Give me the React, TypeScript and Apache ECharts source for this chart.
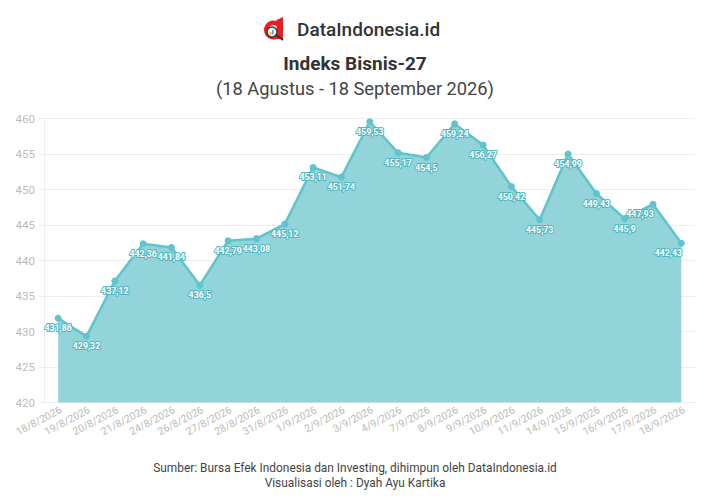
import * as echarts from 'echarts'
import { useEffect, useRef } from 'react'

const categories = ['18/8/2026', '19/8/2026', '20/8/2026', '21/8/2026', '24/8/2026', '26/8/2026', '27/8/2026', '28/8/2026', '31/8/2026', '1/9/2026', '2/9/2026', '3/9/2026', '4/9/2026', '7/9/2026', '8/9/2026', '9/9/2026', '10/9/2026', '11/9/2026', '14/9/2026', '15/9/2026', '16/9/2026', '17/9/2026', '18/9/2026']
const values = [431.86, 429.32, 437.12, 442.36, 441.84, 436.5, 442.79, 443.08, 445.12, 453.11, 451.74, 459.53, 455.17, 454.5, 459.24, 456.27, 450.42, 445.73, 454.99, 449.43, 445.9, 447.93, 442.43]
// the two labels that sit left of their point in the original
const shiftedLabels = [21, 22]

const FONT = 'Roboto, sans-serif'
const TEAL = '#5fc4cc'

const formatValue = (v: number) => String(v).replace('.', ',')

export default function App() {
  const chartRef = useRef<HTMLDivElement>(null)

  useEffect(() => {
    if (!chartRef.current) return
    const chart = echarts.init(chartRef.current, undefined, { renderer: 'svg' })

    chart.setOption({
      animation: false,
      textStyle: { fontFamily: FONT },
      grid: { left: 44, right: 11.5, top: 118.5, bottom: 97.5 },
      xAxis: {
        type: 'category',
        data: categories,
        axisTick: { alignWithLabel: true, length: 5, lineStyle: { color: '#eeeeee' } },
        axisLine: { lineStyle: { color: '#eeeeee' } },
        axisLabel: { rotate: 28, color: '#bbbbbb', fontSize: 10.5, interval: 0, margin: 8, padding: [0, -3, 0, 0] },
      },
      yAxis: {
        type: 'value',
        min: 420,
        max: 460,
        interval: 5,
        axisLine: { show: true, lineStyle: { color: '#eeeeee' } },
        axisTick: { show: true, length: 5, lineStyle: { color: '#eeeeee' } },
        axisLabel: { color: '#bbbbbb', fontSize: 11.5, margin: 9 },
        splitLine: { lineStyle: { color: '#eeeeee' } },
      },
      series: [
        {
          type: 'line',
          data: values.map((v, i) => ({
            value: v,
            label: shiftedLabels.includes(i) ? { offset: [-13, 0] } : undefined,
          })),
          symbol: 'circle',
          symbolSize: 7,
          itemStyle: { color: TEAL },
          lineStyle: { color: TEAL, width: 2.5 },
          areaStyle: { color: '#93d4da', opacity: 1 },
          label: {
            show: true,
            position: 'bottom',
            distance: 2,
            formatter: (p: any) => formatValue(p.value),
            color: '#ffffff',
            fontSize: 8.8,
            fontWeight: 'bold',
            textBorderColor: '#4fb8c2',
            textBorderWidth: 2,
          },
        },
      ],
      graphic: [
        // logo
        { type: 'ring', shape: { cx: 273.5, cy: 30, r: 9.5, r0: 5 }, style: { fill: '#ed1c24' } },
        { type: 'polygon', shape: { points: [[276.5, 20], [283, 17], [283, 39], [276.5, 39]] }, style: { fill: '#ed1c24' } },
        { type: 'line', shape: { x1: 276, y1: 35, x2: 283, y2: 40 }, style: { stroke: '#333333', lineWidth: 2 } },
        { type: 'circle', shape: { cx: 272, cy: 32, r: 5 }, style: { fill: '#f2f8f8', stroke: '#3a3a3a', lineWidth: 1.4 } },
        { type: 'rect', shape: { x: 270, y: 32, width: 1.5, height: 2.5 }, style: { fill: '#f5a623' } },
        { type: 'rect', shape: { x: 272, y: 30, width: 1.5, height: 4.5 }, style: { fill: '#4aa8c8' } },
        {
          type: 'text',
          x: 297,
          y: 29.5,
          style: { text: 'DataIndonesia.id', fontFamily: FONT, fontSize: 19, fontWeight: 500, fill: '#333333', verticalAlign: 'middle' },
        },
        {
          type: 'text',
          x: 355,
          y: 63,
          style: { text: 'Indeks Bisnis-27', fontFamily: FONT, fontSize: 19, fontWeight: 'bold', fill: '#333333', align: 'center', verticalAlign: 'middle' },
        },
        {
          type: 'text',
          x: 355,
          y: 88,
          style: { text: '(18 Agustus - 18 September 2026)', fontFamily: FONT, fontSize: 18.25, fill: '#444444', align: 'center', verticalAlign: 'middle' },
        },
        {
          type: 'text',
          x: 355,
          y: 467.5,
          style: { text: 'Sumber: Bursa Efek Indonesia dan Investing, dihimpun oleh DataIndonesia.id', fontFamily: FONT, fontSize: 11.9, fill: '#444444', align: 'center', verticalAlign: 'middle' },
        },
        {
          type: 'text',
          x: 355,
          y: 482.5,
          style: { text: 'Visualisasi oleh : Dyah Ayu Kartika', fontFamily: FONT, fontSize: 11.9, fill: '#444444', align: 'center', verticalAlign: 'middle' },
        },
      ],
    })

    return () => chart.dispose()
  }, [])

  return <div ref={chartRef} style={{ position: 'absolute', left: 0, top: 0, width: 707, height: 500 }} />
}
